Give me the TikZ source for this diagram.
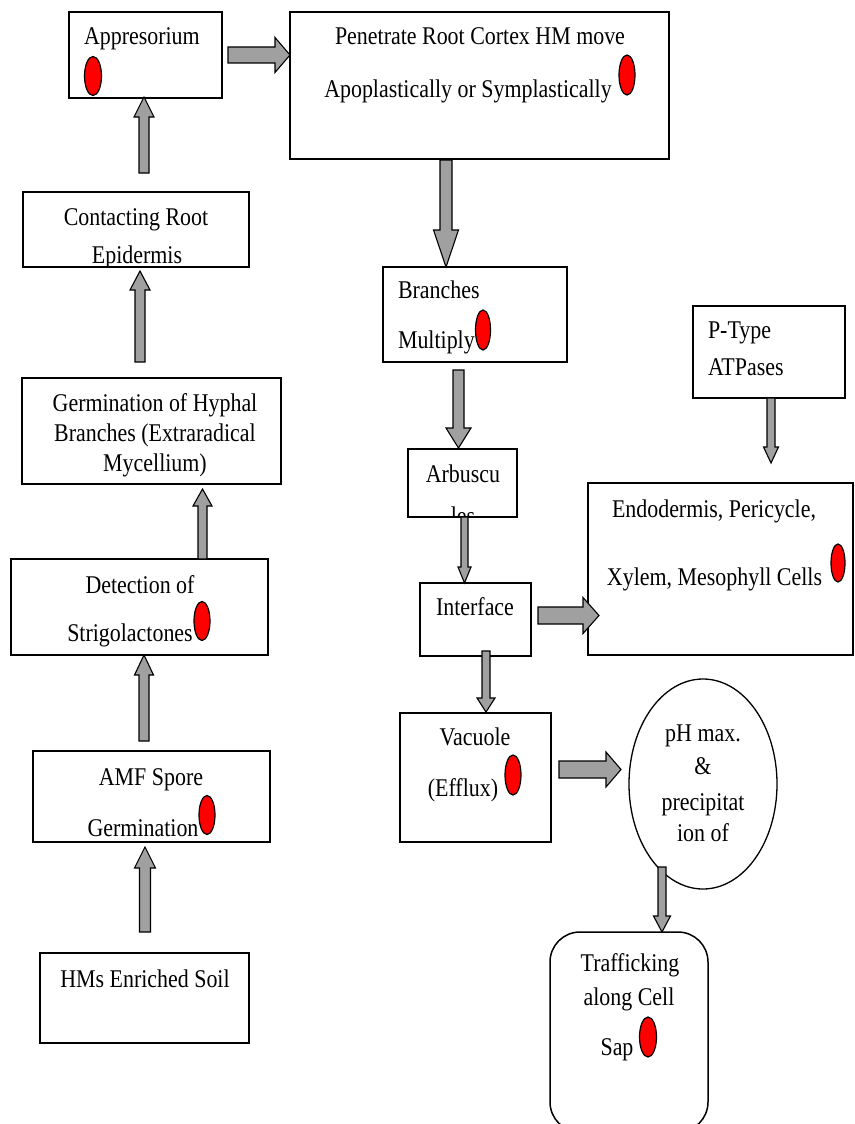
\documentclass[tikz,border=0pt]{standalone}
\usepackage{fontspec}
\setmainfont{Liberation Serif}[FakeStretch=0.86]
\usetikzlibrary{shapes.geometric,fit,calc}
\definecolor{arrowgray}{RGB}{160,160,160}
\tikzset{
 box/.style={draw=black, line width=1.5pt, inner sep=0pt, outer sep=0pt},
 txt/.style={inner sep=0pt, outer sep=0pt, font=\fontsize{25.5}{30}\selectfont, anchor=base},
 ltxt/.style={txt, anchor=base west},
 reddot/.style={ellipse, draw=black, line width=1.2pt, fill=red, minimum width=16pt, minimum height=39pt, inner sep=0pt},
 blk/.style={draw=black, line width=1.1pt, fill=arrowgray, line join=miter},
}
% vertical block arrow: tail, tip, shaft half width, head half width, signed head length
\newcommand\barv[5]{%
 \draw[blk] ($(#1)+(-#3,0)$) -- ($(#1|-#2)+(-#3,#5)$) -- ($(#1|-#2)+(-#4,#5)$) -- (#1|-#2)
   -- ($(#1|-#2)+(#4,#5)$) -- ($(#1|-#2)+(#3,#5)$) -- ($(#1)+(#3,0)$) -- cycle;}
% horizontal block arrow to the right
\newcommand\barh[5]{%
 \draw[blk] ($(#1)+(0,-#3)$) -- ($(#2|-#1)+(-#5,-#3)$) -- ($(#2|-#1)+(-#5,-#4)$) -- (#2|-#1)
   -- ($(#2|-#1)+(-#5,#4)$) -- ($(#2|-#1)+(-#5,#3)$) -- ($(#1)+(0,#3)$) -- cycle;}
\begin{document}
\begin{tikzpicture}[x=1pt,y=-1pt]
\useasboundingbox (0,0) rectangle (854,1124);
\fill[white] (0,0) rectangle (854,1124);

% ---------- boxes ----------
\node[box, fit={(69,12)(222,98)}] (app) {};
\node[box, fit={(290,12)(669,159)}] (pen) {};
\node[box, fit={(23,192)(249,267)}] (con) {};
\node[box, fit={(22,378)(281,484)}] (ger) {};
\node[box, fit={(11,559)(268,655)}] (det) {};
\node[box, fit={(33,751)(270,842)}] (amf) {};
\node[box, fit={(40,953)(249,1043)}] (hms) {};
\node[box, fit={(383,267)(567,362)}] (bra) {};
\node[box, fit={(408,449)(517,517)}] (arb) {};
\node[box, fit={(420,583)(531,656)}] (int) {};
\node[box, fit={(693,306)(845,398)}] (pty) {};
\node[box, fit={(588,483)(853,655)}] (end) {};
\node[box, fit={(400,713)(551,842)}] (vac) {};
\node[ellipse, draw=black, line width=1.3pt, minimum width=148pt, minimum height=210pt, inner sep=0pt] (ph) at (703,784) {};
\node[box, rounded corners=30pt, fit={(550,932)(708,1132)}] (tra) {};

% ---------- texts ----------
\node[ltxt] (appt) at (84,45) {Appresorium};
\node[reddot, minimum width=17pt] (appd) at (93,76) {};

\node[txt] (pent1) at (480,45) {Penetrate Root Cortex HM move};
\node[txt] (pent2) at (468,97) {Apoplastically or Symplastically};
\node[reddot, minimum height=40pt] (pend) at (627,75) {};

\node[txt] (cont1) at (136,225) {Contacting Root};
\begin{scope}
 \clip (con.north west) rectangle (con.south east);
 \node[txt] (cont2) at (137,263) {Epidermis};
\end{scope}

\node[txt] (gert1) at (155,411) {Germination of Hyphal};
\node[txt] (gert2) at (155,441) {Branches (Extraradical};
\node[txt] (gert3) at (155,471) {Mycellium)};

\node[txt] (dett1) at (140,593) {Detection of};
\node[txt] (dett2) at (130,641) {Strigolactones};
\node[reddot] (detd) at (202,621) {};

\node[txt] (amft1) at (151,785) {AMF Spore};
\begin{scope}
 \clip (amf.north west) rectangle (amf.south east);
 \node[txt] (amft2) at (143,836) {Germination};
\end{scope}
\node[reddot] (amfd) at (207,815) {};

\node[txt] (hmst) at (145,987) {HMs Enriched Soil};

\node[ltxt] (brat1) at (398,298) {Branches};
\node[ltxt] (brat2) at (398,348) {Multiply};
\node[reddot, minimum width=15pt, minimum height=40pt] (brad) at (483,330) {};

\node[txt] (arbt1) at (463,482) {Arbuscu};
\begin{scope}
 \clip (arb.north west) rectangle (arb.south east);
 \node[txt] (arbt2) at (463,524) {les};
\end{scope}

\node[txt] (intt) at (475,615) {Interface};

\node[ltxt] (ptyt1) at (708,338) {P-Type};
\node[ltxt] (ptyt2) at (708,375) {ATPases};

\node[txt] (endt1) at (714,517) {Endodermis, Pericycle,};
\node[txt] (endt2) at (714.5,585) {Xylem, Mesophyll Cells};
\node[reddot, minimum width=14pt, minimum height=38pt] (endd) at (838,563) {};

\node[txt] (vact1) at (475,745) {Vacuole};
\node[txt] (vact2) at (463,796) {(Efflux)};
\node[reddot, minimum height=40pt] (vacd) at (513,775) {};

\node[txt] (pht1) at (703,741) {pH max.};
\node[txt] (pht2) at (703,774) {\&};
\node[txt] (pht3) at (703,810) {precipitat};
\node[txt] (pht4) at (703,841) {ion of};

\node[txt] (trat1) at (630,971) {Trafficking};
\node[txt] (trat2) at (629,1005) {along Cell};
\node[txt] (trat3) at (617,1055) {Sap};
\node[reddot, minimum width=17pt, minimum height=40pt] (trad) at (648,1037) {};

% ---------- arrow end points ----------
\coordinate (a1s) at (228,55);    \coordinate (a1e) at (290,55);
\coordinate (a2s) at (144,173);   \coordinate (a2e) at (144,97);
\coordinate (a3s) at (140,362);   \coordinate (a3e) at (140,271);
\coordinate (a4s) at (202.5,559); \coordinate (a4e) at (202.5,489);
\coordinate (a5s) at (144,741);   \coordinate (a5e) at (144,655);
\coordinate (a6s) at (145,932);   \coordinate (a6e) at (145,847);
\coordinate (a7s) at (446,160);   \coordinate (a7e) at (446,267);
\coordinate (a8s) at (458.5,370); \coordinate (a8e) at (458.5,448);
\coordinate (a9s) at (464.5,517); \coordinate (a9e) at (464.5,583);
\coordinate (a10s) at (538,615.5); \coordinate (a10e) at (599,615.5);
\coordinate (a11s) at (771,398);  \coordinate (a11e) at (771,463);
\coordinate (a12s) at (486,651);  \coordinate (a12e) at (486,712);
\coordinate (a13s) at (559,769.5); \coordinate (a13e) at (621,769.5);
\coordinate (a14s) at (662,867);  \coordinate (a14e) at (662,932);

% ---------- block arrows ----------
\barh{a1s}{a1e}{8}{17.5}{15}
\barv{a2s}{a2e}{5}{10}{20}
\barv{a3s}{a3e}{5}{10}{19}
\barv{a4s}{a4e}{4.5}{9.5}{17}
\barv{a5s}{a5e}{5}{9.5}{20}
\barv{a6s}{a6e}{5.5}{10.5}{21}
\barv{a7s}{a7e}{6}{12.5}{-37}
\barv{a8s}{a8e}{5.5}{12.5}{-20}
\barv{a9s}{a9e}{3.5}{6.5}{-16}
\barh{a10s}{a10e}{8.5}{18}{16}
\barv{a11s}{a11e}{4}{7.5}{-16}
\barv{a12s}{a12e}{4}{9}{-14}
\barh{a13s}{a13e}{8.5}{17.5}{15}
\barv{a14s}{a14e}{4}{8.5}{-16}
\end{tikzpicture}
\end{document}
